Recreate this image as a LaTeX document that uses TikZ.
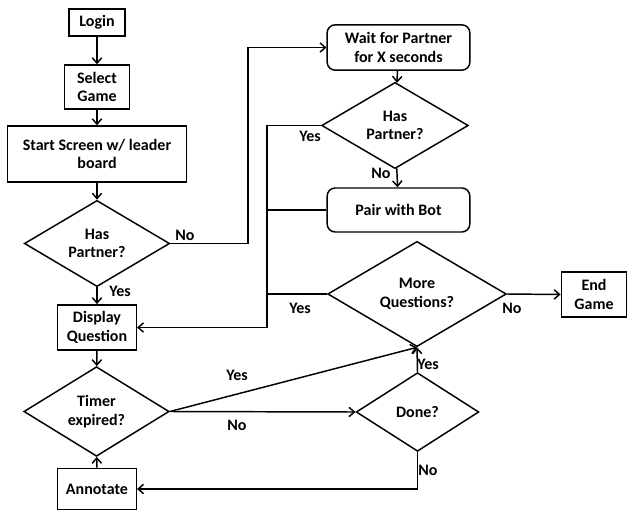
\documentclass[tikz,border=0pt]{standalone}
\usepackage{fontspec}
\setmainfont{Carlito}
\usepackage{tikz}
\usetikzlibrary{shapes.geometric}
\usetikzlibrary{arrows.meta}

\begin{document}
\begin{tikzpicture}[
  x=0.75pt, y=-0.75pt,
  every node/.style={font=\fontsize{12}{14}\selectfont\bfseries, align=center},
  box/.style={draw, line width=1.1pt, inner sep=0pt},
  rbox/.style={box, rounded corners=6pt},
  choice/.style={draw, diamond, line width=1.1pt, inner sep=0pt},
  arr/.style={line width=1.1pt, -{Straight Barb[length=4pt,width=7pt]}},
  link/.style={line width=1.1pt}
]
\useasboundingbox (0,0) rectangle (627,510);

% left column
\node[box, minimum width=42pt, minimum height=20pt] (login) at (97,22.5) {Login};
\node[box, minimum width=49pt, minimum height=33pt] (select) at (97,87) {Select\\Game};
\node[box, minimum width=134pt, minimum height=42pt] (start) at (97,154) {Start Screen w/ leader\\board};
\node[choice, minimum width=109pt, minimum height=59pt] (hp1) at (97,243.5) {Has\\Partner?};
\node[box, minimum width=59pt, minimum height=34pt] (dq) at (97,327.5) {Display\\Question};
\node[choice, minimum width=109pt, minimum height=50pt] (timer) at (96.5,411.5) {Timer\\expired?};
\node[box, minimum width=59pt, minimum height=31pt] (ann) at (97,489) {Annotate};

% right side
\node[rbox, minimum width=107pt, minimum height=34pt] (wait) at (398.5,47.5) {Wait for Partner\\for X seconds};
\node[choice, minimum width=110pt, minimum height=58pt] (hp2) at (395,125.5) {Has\\Partner?};
\node[rbox, minimum width=107pt, minimum height=33pt] (pair) at (398.5,210) {Pair with Bot};
\node[choice, minimum width=134pt, minimum height=59pt] (mq) at (417,294) {More\\Questions?};
\node[box, minimum width=49pt, minimum height=34pt] (endg) at (594,294.5) {End\\Game};
\node[choice, minimum width=92pt, minimum height=59pt] (done) at (417.5,412) {Done?};

\coordinate (jA) at (248,47.5);
\coordinate (jB) at (267,327.5);

\draw[arr] (login) -- (select);
\draw[arr] (select) -- (start);
\draw[arr] (start) -- (hp1);
\draw[arr] (hp1) -- (dq);
\draw[arr] (hp1.east) -| (jA) -- (wait.west);
\draw[arr] (wait) -- (hp2);
\draw[arr] (hp2) -- (pair);
\draw[arr] (hp2.west) -| (jB) -- (dq.east);
\draw[link] (pair.west) -- (pair.west -| jB);
\draw[link] (mq.west) -- (mq.west -| jB);
\draw[arr] (mq.east) -- (endg.west);
\draw[arr] (dq) -- (timer);
\draw[arr] (timer.east) -- (mq.south);
\draw[arr] (timer.east) -- (done.west);
\draw[arr] (done.north) -- (mq.south);
\draw[arr] (done.south) |- (ann.east);
\draw[arr] (ann) -- (timer);

% labels
\node (lno1) at (185,235) {No};
\node (lyes1) at (120,291) {Yes};
\node (lyes2) at (310,136) {Yes};
\node (lno2) at (381,173) {No};
\node (lyes3) at (300,308) {Yes};
\node (lno3) at (512,308) {No};
\node (lyes4) at (237,375) {Yes};
\node (lno4) at (237,425) {No};
\node (lyes5) at (428,364) {Yes};
\node (lno5) at (428,470) {No};
\end{tikzpicture}
\end{document}
